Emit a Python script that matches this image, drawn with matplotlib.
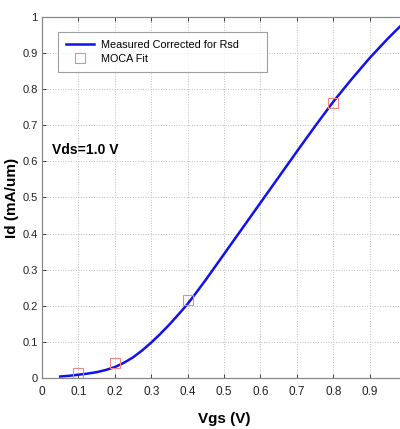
import matplotlib
matplotlib.use("Agg")
import matplotlib.pyplot as plt

# Curva medida (corrigida para Rsd) e pontos do ajuste MOCA
vgs = [0.05, 0.075, 0.1, 0.125, 0.15, 0.175, 0.2, 0.225, 0.25, 0.275, 0.3,
       0.325, 0.35, 0.375, 0.4, 0.425, 0.45, 0.5, 0.55, 0.6, 0.65, 0.7,
       0.75, 0.8, 0.85, 0.9, 0.95, 0.975, 1.0]
id_medido = [0.004, 0.006, 0.009, 0.012, 0.016, 0.022, 0.030, 0.042, 0.057,
             0.076, 0.098, 0.122, 0.148, 0.176, 0.205, 0.238, 0.272, 0.343,
             0.414, 0.485, 0.556, 0.627, 0.697, 0.765, 0.827, 0.886, 0.940,
             0.965, 0.990]
vgs_fit = [0.1, 0.2, 0.4, 0.8]
id_fit = [0.013, 0.042, 0.216, 0.762]

xticks = [0, 0.1, 0.2, 0.3, 0.4, 0.5, 0.6, 0.7, 0.8, 0.9, 1]
yticks = [0, 0.1, 0.2, 0.3, 0.4, 0.5, 0.6, 0.7, 0.8, 0.9, 1]
tick_labels = ['0', '0.1', '0.2', '0.3', '0.4', '0.5', '0.6', '0.7', '0.8', '0.9', '1']

plt.rcParams['font.family'] = ['Liberation Sans', 'DejaVu Sans']

fig = plt.figure(figsize=(4.0, 4.29), dpi=100)
ax = fig.add_axes([0.105, 0.119, 0.91, 0.8415])

ax.plot(vgs, id_medido, color='#1010f0', linewidth=1.8, label='Measured Corrected for Rsd')
ax.plot(vgs_fit, id_fit, linestyle='none', marker='s', markersize=6.5,
        markerfacecolor='none', markeredgecolor='#f08888', markeredgewidth=0.8,
        label='MOCA Fit')

ax.set_xlim(0, 1)
ax.set_ylim(0, 1)
ax.set_xticks(xticks)
ax.set_yticks(yticks)
ax.set_xticklabels(tick_labels)
ax.set_yticklabels(tick_labels)
ax.tick_params(direction='in', length=3, top=True, right=True, labelsize=8.5,
               colors='#222222', width=0.6)
ax.tick_params(axis='x', pad=6)
ax.tick_params(axis='y', labelsize=8, pad=3)
ax.grid(True, linestyle=':', color='#bbbbbb', linewidth=0.7)
for s in ax.spines.values():
    s.set_color('#888888')
    s.set_linewidth(0.9)

ax.set_xlabel('Vgs (V)', fontsize=11, fontweight='bold', labelpad=10)
ax.set_ylabel('Id (mA/um)', fontsize=11, fontweight='bold')
ax.yaxis.set_label_coords(-0.062, 0.5)

ax.text(0.027, 0.632, 'Vds=1.0 V', transform=ax.transAxes, fontsize=10,
        fontweight='bold', va='center', ha='left')

# legenda esticada até a largura da caixa original
leg = ax.legend(loc='upper left', bbox_to_anchor=(0.044, 0.848, 0.574, 0.11),
                mode='expand', borderaxespad=0, fontsize=7.8,
                frameon=True, fancybox=False, edgecolor='#888888',
                handlelength=2.6, handletextpad=0.6, borderpad=0.75,
                labelspacing=0.35)
leg.get_frame().set_linewidth(0.8)

fig.savefig('out.png', dpi=100)
